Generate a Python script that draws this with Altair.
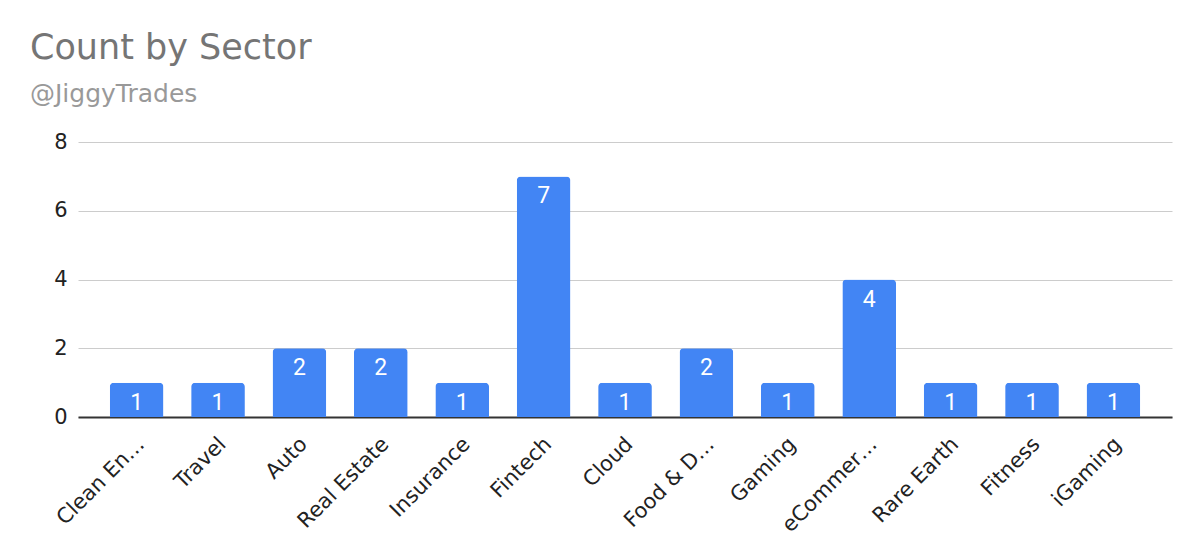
import altair as alt
import pandas as pd

sectors = ["Clean En…", "Travel", "Auto", "Real Estate", "Insurance", "Fintech",
           "Cloud", "Food & D…", "Gaming", "eCommer…", "Rare Earth", "Fitness", "iGaming"]
counts = [1, 1, 2, 2, 1, 7, 1, 2, 1, 4, 1, 1, 1]
y_ticks = [0, 2, 4, 6, 8]

df = pd.DataFrame({"Sector": sectors, "Count": counts})

FONT = "DejaVu Sans"

x_enc = alt.X(
    "Sector:N", sort=sectors, title=None,
    scale=alt.Scale(paddingInner=0.34, paddingOuter=0.39),
    axis=alt.Axis(labelAngle=-45, labelAlign="right", labelBaseline="top",
                  labelFontSize=21, labelFont=FONT, labelColor="#222222",
                  ticks=False, domain=True, domainColor="#333333", domainWidth=2,
                  labelPadding=16, labelOffset=-3, labelLimit=300),
)
y_enc = alt.Y(
    "Count:Q", title=None,
    scale=alt.Scale(domain=[0, 8], nice=False),
    axis=alt.Axis(values=y_ticks, grid=True, gridColor="#cccccc", gridWidth=1,
                  domain=False, ticks=False, labelFontSize=21, labelFont=FONT,
                  labelColor="#222222", labelPadding=11),
)

bars = alt.Chart(df).mark_bar(
    color="#4285F4", cornerRadiusTopLeft=4, cornerRadiusTopRight=4
).encode(x=x_enc, y=y_enc)

labels = alt.Chart(df).mark_text(
    color="white", baseline="top", dy=9, fontSize=23, font="Roboto"
).encode(x=alt.X("Sector:N", sort=sectors), y=alt.Y("Count:Q"), text="Count:Q")

chart = (bars + labels).properties(
    width=1094, height=275,
    title=alt.Title(
        text="Count by Sector", subtitle="@JiggyTrades",
        anchor="start", frame="group", dx=-48, offset=24,
        fontSize=35, font=FONT, fontWeight="normal", color="#757575",
        subtitleFontSize=25, subtitleFont=FONT, subtitleColor="#999999",
        subtitlePadding=16,
    ),
    padding={"left": 70, "top": 134, "right": 20, "bottom": 133},
    autosize=alt.AutoSizeParams(type="none"),
).configure_view(stroke=None)

chart.save("out.html", embed_options={"renderer": "svg", "actions": False})
